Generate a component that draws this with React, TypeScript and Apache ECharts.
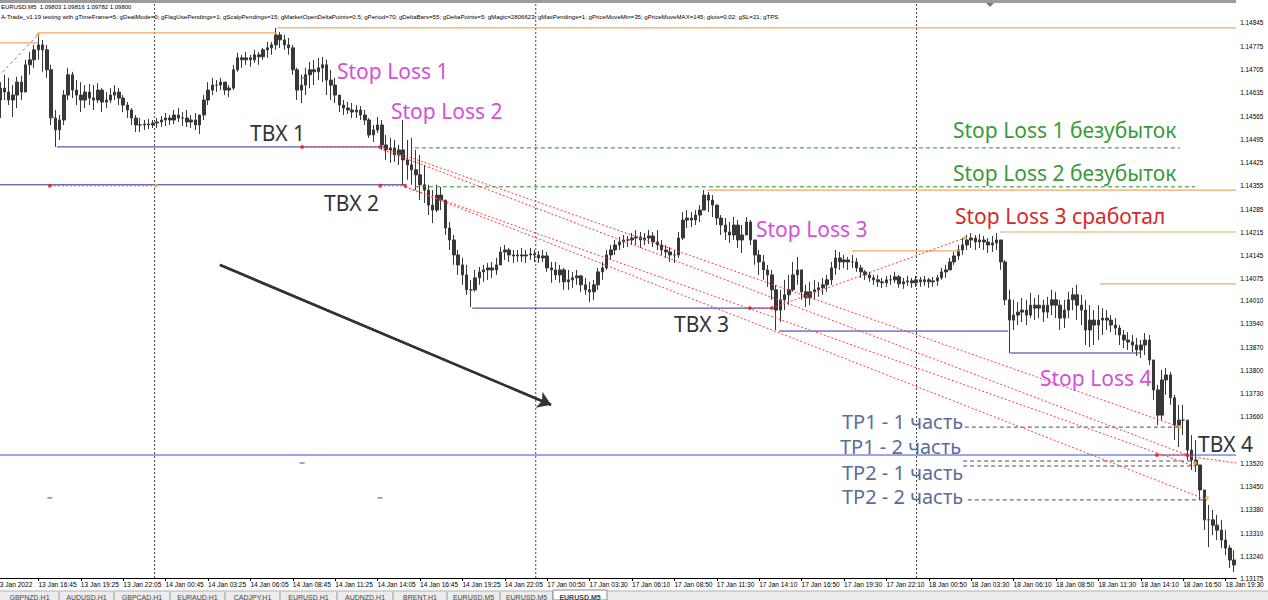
import React, { useEffect, useRef } from "react";
import * as echarts from "echarts";

// ---------- axis labels ----------
const TICK_LABELS = [
  "13 Jan 2022", "13 Jan 16:45", "13 Jan 19:25", "13 Jan 22:05", "14 Jan 00:45", "14 Jan 03:25",
  "14 Jan 06:05", "14 Jan 08:45", "14 Jan 11:25", "14 Jan 14:05", "14 Jan 16:45", "14 Jan 19:25",
  "14 Jan 22:05", "17 Jan 00:50", "17 Jan 03:30", "17 Jan 06:10", "17 Jan 08:50", "17 Jan 11:30",
  "17 Jan 14:10", "17 Jan 16:50", "17 Jan 19:30", "17 Jan 22:10", "18 Jan 00:50", "18 Jan 03:30",
  "18 Jan 06:10", "18 Jan 08:50", "18 Jan 11:30", "18 Jan 14:10", "18 Jan 16:50", "18 Jan 19:30",
];
const PRICE_TICKS = [
  1.14845, 1.14775, 1.14705, 1.14635, 1.14565, 1.14495, 1.14425, 1.14355, 1.14285, 1.14215,
  1.14145, 1.14075, 1.1401, 1.1394, 1.1387, 1.138, 1.1373, 1.1366, 1.1352, 1.1345, 1.1338,
  1.1331, 1.1324, 1.13175,
];
const PRICE_MIN = 1.13175;
const PRICE_MAX = 1.14902;

// ---------- price bars (EURUSD M5, one bar per 16 min) ----------
const FIRST_OPEN = 1.146;
const HIGH = [
  1.14643, 1.14667, 1.14689, 1.1468, 1.14658, 1.14683, 1.14686, 1.14734, 1.14758, 1.14779,
  1.14815, 1.14794, 1.14779, 1.14719, 1.14583, 1.14568, 1.14643, 1.1471, 1.14698, 1.14673,
  1.14667, 1.14658, 1.14661, 1.14658, 1.14664, 1.14649, 1.14637, 1.14649, 1.14658, 1.14649,
  1.14628, 1.14607, 1.14589, 1.14568, 1.14559, 1.14553, 1.14556, 1.14553, 1.14559, 1.14565,
  1.14574, 1.14568, 1.14583, 1.14589, 1.14577, 1.14583, 1.14568, 1.14574, 1.14559, 1.14628,
  1.14667, 1.1468, 1.14673, 1.1468, 1.14667, 1.14658, 1.14719, 1.14755, 1.14749, 1.14758,
  1.14749, 1.14764, 1.14758, 1.1477, 1.14788, 1.14788, 1.1483, 1.14818, 1.14809, 1.148,
  1.14779, 1.1471, 1.14689, 1.1471, 1.14728, 1.14734, 1.1474, 1.14743, 1.14734, 1.14704,
  1.1468, 1.14628, 1.14613, 1.14607, 1.14604, 1.14598, 1.14595, 1.14583, 1.14559, 1.14538,
  1.14562, 1.14553, 1.14508, 1.14499, 1.14493, 1.14478, 1.14553, 1.14493, 1.14499, 1.14463,
  1.14448, 1.14418, 1.14358, 1.14342, 1.14358, 1.14352, 1.14312, 1.14246, 1.14207, 1.14162,
  1.14138, 1.14117, 1.14072, 1.14102, 1.14111, 1.14117, 1.14123, 1.14126, 1.14138, 1.14171,
  1.14177, 1.14168, 1.14162, 1.14162, 1.14168, 1.14162, 1.14168, 1.14162, 1.14159, 1.14162,
  1.14156, 1.14126, 1.14126, 1.14117, 1.14108, 1.14102, 1.14096, 1.14102, 1.14087, 1.14078,
  1.14066, 1.14072, 1.14108, 1.14126, 1.14162, 1.14177, 1.14192, 1.14201, 1.14207, 1.14204,
  1.14213, 1.14222, 1.14216, 1.14213, 1.14222, 1.14216, 1.14222, 1.14192, 1.14177, 1.14171,
  1.14162, 1.14216, 1.14276, 1.14282, 1.14276, 1.14282, 1.14297, 1.14342, 1.14336, 1.14327,
  1.14297, 1.14267, 1.14258, 1.14246, 1.14261, 1.14252, 1.14237, 1.14261, 1.14252, 1.14192,
  1.14162, 1.14147, 1.14117, 1.14102, 1.14057, 1.14042, 1.14072, 1.14087, 1.14126, 1.14141,
  1.14087, 1.14057, 1.14066, 1.14072, 1.14066, 1.14078, 1.14087, 1.14126, 1.14162, 1.14156,
  1.14147, 1.14141, 1.14147, 1.14138, 1.14117, 1.14102, 1.14096, 1.14087, 1.14087, 1.14078,
  1.14084, 1.14087, 1.14096, 1.14087, 1.14078, 1.14084, 1.14078, 1.14084, 1.14081, 1.14084,
  1.14078, 1.14081, 1.14087, 1.14108, 1.14117, 1.14138, 1.14156, 1.14177, 1.14198, 1.14207,
  1.14213, 1.14207, 1.1421, 1.14204, 1.14198, 1.14204, 1.14213, 1.14192, 1.14132, 1.14042,
  1.14012, 1.14005, 1.14018, 1.14012, 1.14033, 1.14018, 1.14027, 1.14012, 1.14021, 1.14042,
  1.14036, 1.14012, 1.14012, 1.14036, 1.14048, 1.14057, 1.14027, 1.14012, 1.13996, 1.13981,
  1.13996, 1.13987, 1.13981, 1.13966, 1.13957, 1.13936, 1.13921, 1.13915, 1.13906, 1.13897,
  1.13891, 1.13912, 1.13906, 1.13831, 1.13756, 1.13801, 1.13807, 1.13795, 1.13726, 1.13696,
  1.13696, 1.1365, 1.13605, 1.1359, 1.13515, 1.1344, 1.13395, 1.1338, 1.13365, 1.1335,
  1.13319, 1.13274, 1.13259,
];
const LOW = [
  1.14568, 1.14559, 1.14613, 1.14598, 1.14562, 1.14589, 1.14613, 1.14637, 1.14689, 1.1471,
  1.14734, 1.14698, 1.1468, 1.14538, 1.14472, 1.14493, 1.14538, 1.14613, 1.14619, 1.14598,
  1.14577, 1.14589, 1.14598, 1.14583, 1.14604, 1.14577, 1.14589, 1.14604, 1.14613, 1.14598,
  1.14577, 1.14559, 1.14538, 1.14517, 1.14517, 1.14523, 1.14526, 1.14529, 1.14529, 1.14532,
  1.14535, 1.14538, 1.14541, 1.14547, 1.14535, 1.14532, 1.14529, 1.14523, 1.14511, 1.14553,
  1.14598, 1.14628, 1.14637, 1.14643, 1.14628, 1.14622, 1.14643, 1.14698, 1.1471, 1.14719,
  1.14713, 1.14725, 1.14719, 1.14734, 1.1474, 1.14749, 1.14764, 1.1477, 1.14764, 1.14749,
  1.14689, 1.14613, 1.14604, 1.14628, 1.14649, 1.14658, 1.14673, 1.14667, 1.14628, 1.14613,
  1.14604, 1.14577, 1.14568, 1.14571, 1.14559, 1.14559, 1.14553, 1.14538, 1.14499, 1.14487,
  1.14514, 1.14463, 1.14433, 1.14424, 1.14427, 1.14418, 1.14358, 1.14373, 1.14358, 1.14342,
  1.14312, 1.14303, 1.14267, 1.14243, 1.14276, 1.14282, 1.14207, 1.14162, 1.14117, 1.14087,
  1.14057, 1.14027, 1.1399, 1.14036, 1.14057, 1.14066, 1.14072, 1.14078, 1.14087, 1.14117,
  1.14132, 1.14126, 1.14123, 1.14126, 1.14126, 1.14123, 1.14132, 1.14126, 1.14123, 1.14126,
  1.14096, 1.14063, 1.14072, 1.14063, 1.14042, 1.14042, 1.14048, 1.14057, 1.14036, 1.14027,
  1.14005, 1.14012, 1.14042, 1.14072, 1.14102, 1.14132, 1.14147, 1.14162, 1.14168, 1.14171,
  1.14177, 1.14177, 1.14168, 1.14177, 1.1418, 1.14171, 1.14162, 1.14147, 1.14138, 1.14126,
  1.14123, 1.14138, 1.14192, 1.14228, 1.14231, 1.14237, 1.14246, 1.14282, 1.14276, 1.14261,
  1.14237, 1.14207, 1.14192, 1.14183, 1.14192, 1.14168, 1.14153, 1.14207, 1.14177, 1.14117,
  1.14087, 1.14072, 1.14051, 1.14012, 1.13921, 1.13945, 1.13981, 1.13996, 1.14036, 1.14057,
  1.14012, 1.1399, 1.13996, 1.14012, 1.14021, 1.14027, 1.14036, 1.14057, 1.14087, 1.14102,
  1.14108, 1.14102, 1.14108, 1.14096, 1.14078, 1.14072, 1.14066, 1.14057, 1.14051, 1.14048,
  1.14051, 1.14057, 1.14063, 1.14048, 1.14045, 1.14054, 1.14048, 1.14051, 1.14051, 1.14054,
  1.14048, 1.14051, 1.14054, 1.14072, 1.14078, 1.14102, 1.14117, 1.14132, 1.14147, 1.14162,
  1.14168, 1.14162, 1.14168, 1.14162, 1.14153, 1.14156, 1.14162, 1.14102, 1.13996, 1.13852,
  1.13921, 1.13936, 1.13945, 1.13936, 1.13957, 1.13951, 1.13957, 1.13945, 1.13957, 1.13966,
  1.13957, 1.13921, 1.13927, 1.13957, 1.13981, 1.13951, 1.13936, 1.13876, 1.1387, 1.13876,
  1.13891, 1.13906, 1.13921, 1.13915, 1.13906, 1.13876, 1.13867, 1.13861, 1.13855, 1.13843,
  1.13837, 1.13846, 1.13816, 1.13711, 1.13635, 1.1365, 1.13726, 1.13696, 1.1359, 1.13569,
  1.13605, 1.1353, 1.135, 1.13494, 1.1341, 1.13319, 1.13268, 1.13304, 1.13289, 1.13265,
  1.13244, 1.13205, 1.13193,
];
const CLOSE = [
  1.14613, 1.14649, 1.14637, 1.14613, 1.14628, 1.14667, 1.14637, 1.14719, 1.14734, 1.14764,
  1.14779, 1.14764, 1.14704, 1.14559, 1.14523, 1.14553, 1.14628, 1.14689, 1.14643, 1.14628,
  1.14613, 1.14637, 1.14619, 1.14613, 1.14643, 1.14607, 1.14613, 1.14628, 1.14637, 1.14619,
  1.14598, 1.14583, 1.14559, 1.14538, 1.14538, 1.14541, 1.14538, 1.14544, 1.14547, 1.14553,
  1.14559, 1.14553, 1.14568, 1.14559, 1.14559, 1.14547, 1.14553, 1.14538, 1.14568, 1.14613,
  1.14643, 1.14658, 1.14658, 1.14667, 1.14643, 1.14649, 1.14704, 1.1474, 1.14734, 1.1474,
  1.14734, 1.14749, 1.14743, 1.14764, 1.1477, 1.14779, 1.14809, 1.14794, 1.14779, 1.1477,
  1.14704, 1.14643, 1.14658, 1.14689, 1.14704, 1.14698, 1.1471, 1.14719, 1.14673, 1.14658,
  1.14628, 1.14598, 1.14589, 1.14583, 1.14577, 1.14583, 1.14568, 1.14553, 1.14508, 1.14523,
  1.14538, 1.14478, 1.14463, 1.14469, 1.14448, 1.14463, 1.14433, 1.14418, 1.14403, 1.14388,
  1.14358, 1.14342, 1.14297, 1.14282, 1.14327, 1.14312, 1.14228, 1.14192, 1.14147, 1.14117,
  1.14087, 1.14042, 1.14042, 1.14078, 1.14096, 1.14102, 1.14108, 1.14102, 1.14117, 1.14156,
  1.14162, 1.14147, 1.14144, 1.14147, 1.14144, 1.14147, 1.1415, 1.14147, 1.14138, 1.14144,
  1.14108, 1.14102, 1.14087, 1.14102, 1.14066, 1.14072, 1.14078, 1.14084, 1.14057, 1.14042,
  1.14036, 1.14057, 1.14096, 1.14108, 1.14147, 1.14162, 1.14177, 1.14186, 1.14192, 1.14192,
  1.14198, 1.14201, 1.14192, 1.14198, 1.14204, 1.14186, 1.14177, 1.14162, 1.14156, 1.14147,
  1.14147, 1.14198, 1.14252, 1.14258, 1.14252, 1.14267, 1.14282, 1.14327, 1.14312, 1.14297,
  1.14258, 1.14237, 1.14216, 1.14207, 1.14237, 1.14192, 1.14207, 1.14246, 1.14192, 1.14147,
  1.14126, 1.14102, 1.14087, 1.14042, 1.13981, 1.14012, 1.14027, 1.14042, 1.14087, 1.14102,
  1.14036, 1.14018, 1.14036, 1.14042, 1.14048, 1.14057, 1.14072, 1.14108, 1.14138, 1.14126,
  1.14132, 1.14126, 1.14126, 1.14108, 1.14096, 1.14087, 1.14078, 1.14072, 1.14066, 1.14063,
  1.14072, 1.14072, 1.14081, 1.1406, 1.14066, 1.14069, 1.14063, 1.14072, 1.14066, 1.14072,
  1.14066, 1.14069, 1.14078, 1.14096, 1.14102, 1.14126, 1.14144, 1.14162, 1.14177, 1.14192,
  1.14198, 1.14186, 1.14192, 1.14186, 1.14177, 1.14183, 1.14192, 1.14126, 1.14012, 1.13951,
  1.13966, 1.13975, 1.13981, 1.13966, 1.13996, 1.13987, 1.13996, 1.13975, 1.13996, 1.14012,
  1.13996, 1.13957, 1.13981, 1.14012, 1.14027, 1.13996, 1.13981, 1.13921, 1.13951, 1.13936,
  1.13951, 1.13957, 1.13951, 1.13936, 1.13927, 1.13906, 1.13891, 1.13885, 1.13876, 1.13861,
  1.13876, 1.13891, 1.13831, 1.13741, 1.13665, 1.13771, 1.13786, 1.13717, 1.13635, 1.1365,
  1.1365, 1.1356, 1.1353, 1.13515, 1.1344, 1.1335, 1.1335, 1.13334, 1.13319, 1.13289,
  1.13265, 1.13229, 1.13214,
];

// ---------- drawn objects, in [fromBar, toBar, price] (bar = index on the time axis) ----------
const ORANGE_LEVELS = [
  [-0.5, 9.9, 1.14785], [9.9, 66.3, 1.14815], [66.3, 292.5, 1.1483], [167.7, 292.5, 1.14342],
  [201.9, 227.4, 1.14159], [236.8, 292.5, 1.14216], [260.4, 292.5, 1.1406],
];
const TBX_LEVELS = [
  [14.4, 91.7, 1.14472], [-0.5, 96.5, 1.14358], [112.3, 183.0, 1.13987],
  [184.7, 238.7, 1.13918], [239.2, 269.8, 1.13852],
];
const LONG_BLUE_LEVEL = [-0.5, 292.5, 1.13545];
const BREAKEVEN_LEVELS = [[98.8, 279.2, 1.14469], [98.8, 282.8, 1.14352]];
const TP_LEVELS = [
  [228.5, 278.8, 1.13629], [228.1, 282.3, 1.13527], [228.1, 282.3, 1.13512], [229.2, 285.6, 1.1341],
];
// red dotted trade lines: [fromBar, fromPrice, toBar, toPrice]
const TRADE_LINES = [
  [72.2, 1.14472, 90.6, 1.14472], [12.7, 1.14355, 37.7, 1.14355], [90.6, 1.14355, 96.5, 1.14355],
  [177.8, 1.13987, 183.0, 1.13987], [273.8, 1.13545, 280.9, 1.13545],
  [91.3, 1.14469, 279.2, 1.13629], [91.3, 1.14463, 282.8, 1.13536],
  [96.5, 1.14352, 283.2, 1.13509], [96.5, 1.14352, 285.6, 1.1341],
  [183.0, 1.13987, 228.5, 1.14198], [280.9, 1.13542, 292.5, 1.13521],
];
const BLUE_DASH_TREND = [-0.5, 1.1467, 9.9, 1.14809];
const TREND_ARROW = [52.8, 1.14117, 130.9, 1.13696];
const DAY_SEPARATORS = [37.4, 127.3, 217.1];
const RED_DOTS = [
  [72.2, 1.14472], [90.6, 1.14472], [12.7, 1.14355], [90.6, 1.14355], [96.5, 1.14355],
  [177.8, 1.13987], [183.0, 1.13987], [273.8, 1.13545], [280.9, 1.13545],
];
const ORANGE_DOTS = [
  [9.9, 1.14809], [37.7, 1.14355], [279.2, 1.13629], [285.6, 1.13416], [282.8, 1.13521], [228.5, 1.14198],
];
const RED_TICKS = [[13.2, 1.14562], [72.4, 1.1468]];
const BLUE_TICKS = [[72.2, 1.13521], [12.7, 1.13416], [90.6, 1.13416]];

const TABS = [
  "GBPNZD,H1", "AUDUSD,H1", "GBPCAD,H1", "EURAUD,H1", "CADJPY,H1", "EURUSD,H1",
  "AUDNZD,H1", "BRENT,H1", "EURUSD,M5", "EURUSD,M5", "EURUSD,M5",
];

const HEADER_1 = "EURUSD,M5  1.09803 1.09816 1.09782 1.09800";
const HEADER_2 =
  "A-Trade_v1.19 testing with gTimeFrame=5; gDealMode=0; gFlagUsePendings=1; gScalpPendings=15; gMarketOpenDeltaPoints=0.5; gPeriod=70; gDeltaBars=55; gDeltaPoints=5; gMagic=2806623; gMaxPendings=1; gPriceMoveMin=35; gPriceMoveMAX=145; glots=0.02; gSL=21; gTPS";

const MAGENTA = "#d64fd6";
const GREEN_T = "#3a9a3a";
const RED_T = "#d42a2a";
const SLATE = "#5a6e9b";
const DARK = "#333333";

const NOTES: [string, number, number, string, number][] = [
  ["Stop Loss 1", 337, 71, MAGENTA, 21],
  ["Stop Loss 2", 391, 111, MAGENTA, 21],
  ["TBX 1", 250, 133, DARK, 21],
  ["TBX 2", 324, 203, DARK, 21],
  ["Stop Loss 1 безубыток", 953, 130, GREEN_T, 21],
  ["Stop Loss 2 безубыток", 953, 173, GREEN_T, 21],
  ["Stop Loss 3", 756, 229, MAGENTA, 21],
  ["Stop Loss 3 сработал", 955, 216, RED_T, 21],
  ["TBX 3", 674, 324, DARK, 21],
  ["Stop Loss 4", 1040, 378, MAGENTA, 21],
  ["TP1 - 1 часть", 842, 421, SLATE, 20],
  ["TP1 - 2 часть", 840, 446, SLATE, 20],
  ["TP2 - 1 часть", 842, 472, SLATE, 20],
  ["TP2 - 2 часть", 842, 496, SLATE, 20],
  ["TBX 4", 1198, 444, DARK, 21],
];

function seg(x1: number, p1: number, x2: number, p2: number, lineStyle: any, z = 3) {
  return {
    type: "line",
    xAxisIndex: 1,
    yAxisIndex: 0,
    data: [[x1, p1], [x2, p2]],
    symbol: "none",
    silent: true,
    z,
    lineStyle,
  };
}

export default function App() {
  const ref = useRef<HTMLDivElement>(null);
  useEffect(() => {
    if (!ref.current) return;
    const chart = echarts.init(ref.current, undefined, { renderer: "svg" });
    const N = CLOSE.length;
    const categories = CLOSE.map((_, i) => String(i));
    const ohlc = CLOSE.map((c, i) => [i === 0 ? FIRST_OPEN : CLOSE[i - 1], c, LOW[i], HIGH[i]]);

    const series: any[] = [];
    DAY_SEPARATORS.forEach((v) =>
      series.push(seg(v, PRICE_MIN, v, PRICE_MAX, { color: "#444", width: 1, type: [2, 2] }, 1))
    );
    series.push({
      type: "candlestick",
      xAxisIndex: 0,
      yAxisIndex: 0,
      data: ohlc,
      barWidth: 3,
      silent: true,
      z: 2,
      itemStyle: { color: "#383838", color0: "#383838", borderColor: "#383838", borderColor0: "#383838", borderWidth: 1 },
    });
    ORANGE_LEVELS.forEach(([a, b, p]) => series.push(seg(a, p, b, p, { color: "#f4a862", width: 1.2 })));
    TBX_LEVELS.forEach(([a, b, p]) => series.push(seg(a, p, b, p, { color: "#2f2fa0", width: 1 })));
    series.push(seg(LONG_BLUE_LEVEL[0], LONG_BLUE_LEVEL[2], LONG_BLUE_LEVEL[1], LONG_BLUE_LEVEL[2], { color: "#4646d8", width: 1 }));
    BREAKEVEN_LEVELS.forEach(([a, b, p]) => series.push(seg(a, p, b, p, { color: "#2b8a2b", width: 1, type: [4, 3] })));
    TP_LEVELS.forEach(([a, b, p]) => series.push(seg(a, p, b, p, { color: "#4a4a66", width: 1, type: [4, 3] })));
    TRADE_LINES.forEach(([a, p, b, q]) => series.push(seg(a, p, b, q, { color: "#ff3c3c", width: 1, type: [2, 2] }, 4)));
    series.push(seg(BLUE_DASH_TREND[0], BLUE_DASH_TREND[1], BLUE_DASH_TREND[2], BLUE_DASH_TREND[3], { color: "#6c7ad0", width: 1, type: [3, 3] }));
    series.push({
      type: "line",
      xAxisIndex: 1,
      yAxisIndex: 0,
      data: [[TREND_ARROW[0], TREND_ARROW[1]], [TREND_ARROW[2], TREND_ARROW[3]]],
      symbol: "none",
      silent: true,
      z: 5,
      lineStyle: { color: "#333", width: 2.5 },
      markLine: {
        silent: true,
        symbol: ["none", "arrow"],
        symbolSize: 13,
        label: { show: false },
        lineStyle: { color: "#333", width: 2.5, type: "solid" },
        data: [[{ coord: [TREND_ARROW[0], TREND_ARROW[1]] }, { coord: [TREND_ARROW[2], TREND_ARROW[3]] }]],
      },
    });
    series.push({
      type: "scatter", xAxisIndex: 1, yAxisIndex: 0, data: RED_DOTS, symbol: "circle", symbolSize: 4,
      itemStyle: { color: "#e02020" }, silent: true, z: 6,
    });
    series.push({
      type: "scatter", xAxisIndex: 1, yAxisIndex: 0, data: ORANGE_DOTS, symbol: "circle", symbolSize: 4,
      itemStyle: { color: "#e8b84a" }, silent: true, z: 6,
    });
    series.push({
      type: "scatter", xAxisIndex: 1, yAxisIndex: 0, data: RED_TICKS, symbol: "rect", symbolSize: [5, 1.2],
      itemStyle: { color: "#e04040" }, silent: true, z: 6,
    });
    series.push({
      type: "scatter", xAxisIndex: 1, yAxisIndex: 0, data: BLUE_TICKS, symbol: "rect", symbolSize: [5, 1.2],
      itemStyle: { color: "#3a3ad0" }, silent: true, z: 6,
    });

    const graphics: any[] = [];
    graphics.push({ type: "rect", shape: { x: 0, y: 0, width: 1236, height: 3 }, style: { fill: "#9c9c9c" }, z: 50 });
    graphics.push({ type: "polygon", shape: { points: [[986, 3], [994, 3], [990, 7]] }, style: { fill: "#7a7a7a" }, z: 50 });
    graphics.push({
      type: "text", x: 1, y: 7, z: 50,
      style: { text: HEADER_1, fill: "#000", fontSize: 6, fontFamily: "Liberation Sans", verticalAlign: "middle" },
    });
    graphics.push({
      type: "text", x: 1, y: 16, z: 50,
      style: { text: HEADER_2, fill: "#000", fontSize: 6.1, fontFamily: "Liberation Sans", verticalAlign: "middle" },
    });
    NOTES.forEach(([t, x, y, c, fs]) =>
      graphics.push({
        type: "text", x, y, z: 60,
        style: { text: t, fill: c, fontSize: fs, lineHeight: 20, fontFamily: "Noto Sans", verticalAlign: "middle" },
      })
    );
    // tab bar
    graphics.push({ type: "rect", shape: { x: 0, y: 591, width: 1268, height: 9 }, style: { fill: "#ececec" }, z: 50 });
    graphics.push({ type: "line", shape: { x1: 0, y1: 591, x2: 1268, y2: 591 }, style: { stroke: "#b0b0b0", lineWidth: 1 }, z: 51 });
    const tabEdges = [0, 59, 114, 170, 225, 280, 337, 393, 447, 500, 553, 607];
    TABS.forEach((t, i) => {
      const x0 = tabEdges[i];
      const x1 = tabEdges[i + 1];
      const active = i === TABS.length - 1;
      if (active) {
        graphics.push({ type: "rect", shape: { x: x0, y: 590, width: x1 - x0, height: 10 }, style: { fill: "#fff", stroke: "#888", lineWidth: 1 }, z: 52 });
      } else {
        graphics.push({ type: "line", shape: { x1: x1, y1: 592, x2: x1, y2: 600 }, style: { stroke: "#999", lineWidth: 1 }, z: 52 });
      }
      graphics.push({
        type: "text", x: (x0 + x1) / 2, y: 594, z: 53,
        style: { text: t, fill: "#444", fontSize: 7, fontFamily: "Liberation Sans", align: "center", verticalAlign: "top", fontWeight: active ? "bold" : "normal" },
      });
    });

    chart.setOption({
      animation: false,
      backgroundColor: "#ffffff",
      grid: { left: -6.1, right: 31.8, top: 4, bottom: 22, containLabel: false, outerBoundsMode: "none" },
      xAxis: [
        {
          type: "category",
          data: categories,
          boundaryGap: true,
          axisLine: { show: true, lineStyle: { color: "#000", width: 1 } },
          axisTick: { show: true, interval: 9, alignWithLabel: true, length: 3, lineStyle: { color: "#000" } },
          axisLabel: {
            show: true,
            interval: 9,
            align: "left",
            margin: 3,
            fontSize: 6.6,
            fontFamily: "Liberation Sans",
            color: "#000",
            formatter: (_v: string, idx: number) => TICK_LABELS[Math.round(idx / 10)] ?? "",
          },
          splitLine: { show: false },
        },
        { type: "value", min: -0.5, max: N - 0.5, show: false },
      ],
      yAxis: {
        type: "value",
        position: "right",
        min: PRICE_MIN,
        max: PRICE_MAX,
        axisLine: { show: true, lineStyle: { color: "#000", width: 1 } },
        axisTick: { show: true, length: 3, customValues: PRICE_TICKS, lineStyle: { color: "#000" } },
        axisLabel: {
          show: true,
          customValues: PRICE_TICKS,
          formatter: (v: number) => v.toFixed(5),
          fontSize: 6.4,
          fontFamily: "Liberation Sans",
          color: "#000",
          margin: 4,
        },
        splitLine: { show: false },
      },
      series,
      graphic: graphics,
    });
    return () => chart.dispose();
  }, []);
  return <div ref={ref} style={{ position: "absolute", left: 0, top: 0, width: 1268, height: 600 }} />;
}
